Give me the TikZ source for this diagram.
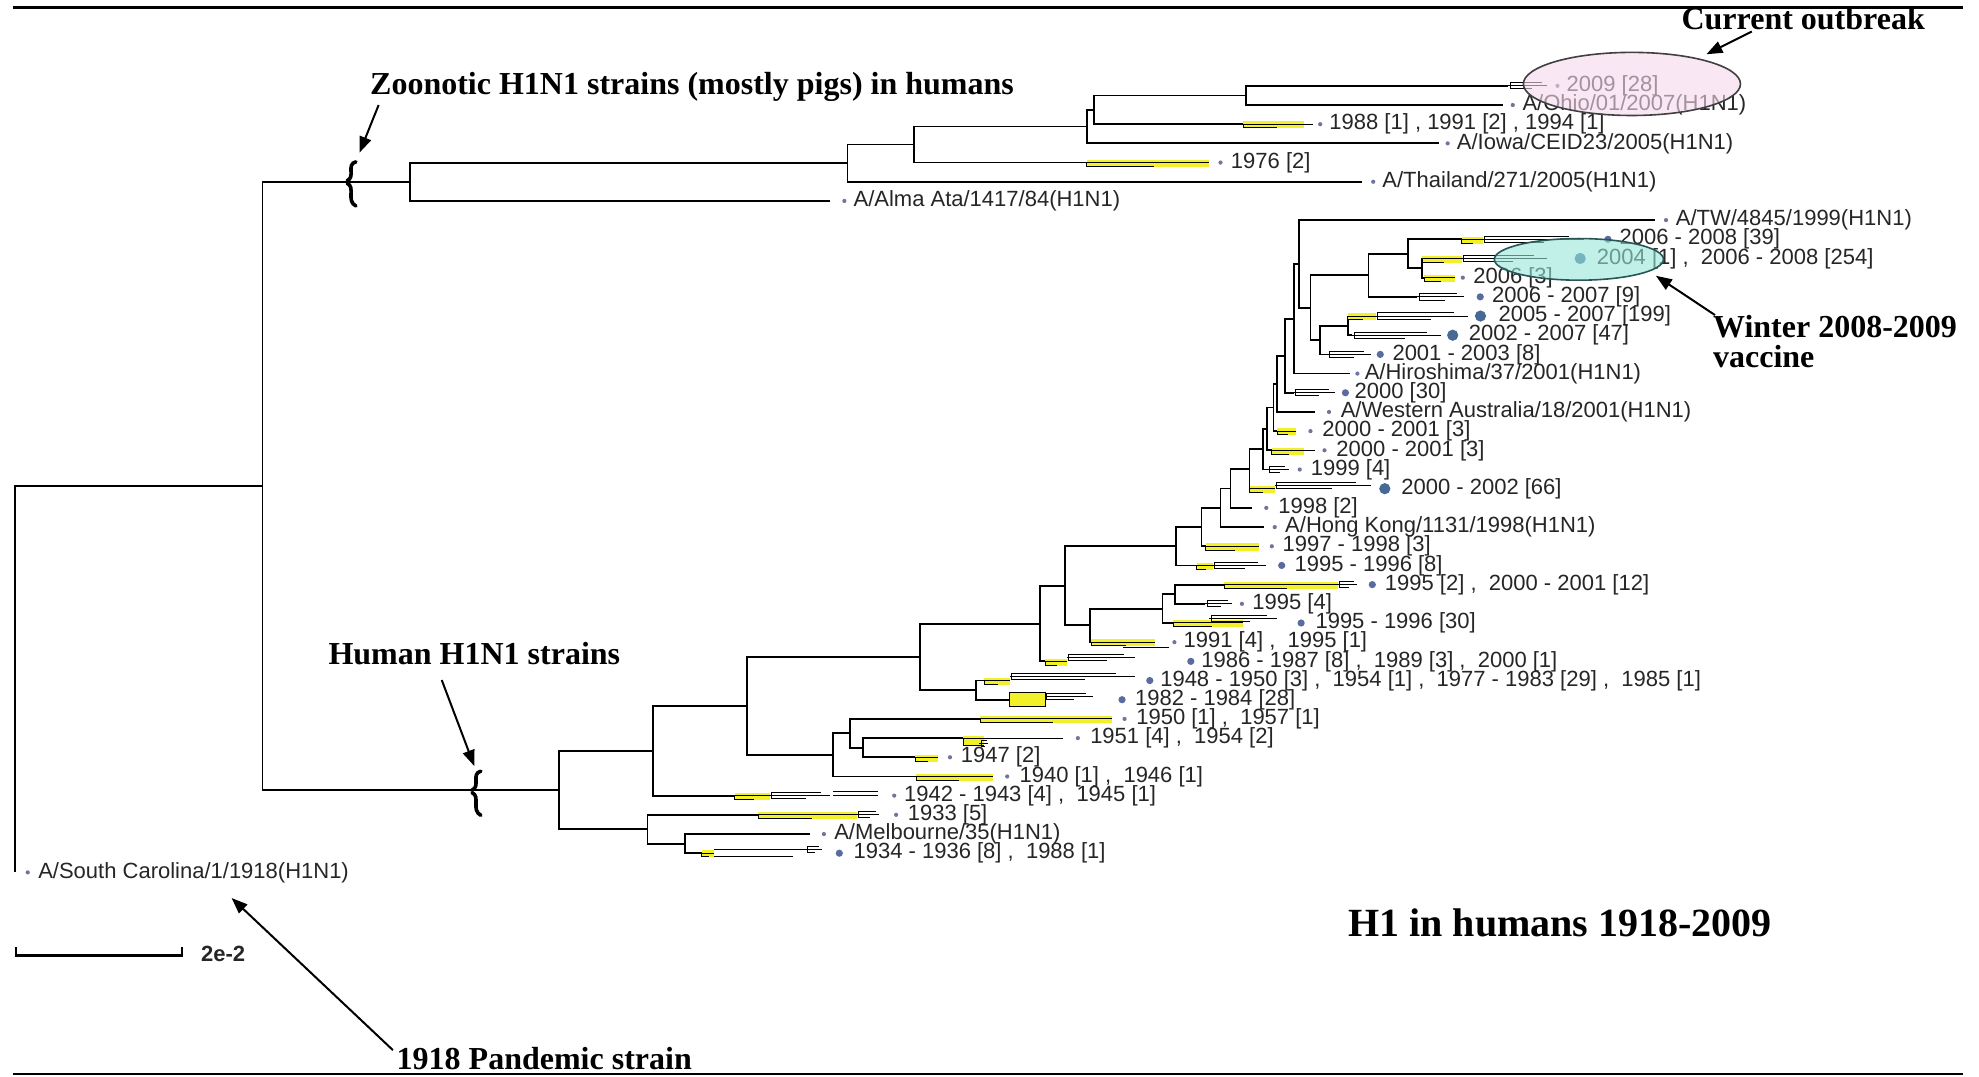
\documentclass[tikz,border=0pt]{standalone}
\usepackage{fontspec}
\setmainfont{Liberation Serif}
\newfontfamily\sansf{Liberation Sans}
\usetikzlibrary{arrows.meta}
\definecolor{yel}{RGB}{242,240,40}
\definecolor{sdotc}{RGB}{110,118,158}
\definecolor{mdotc}{RGB}{88,108,160}
\definecolor{bdotc}{RGB}{70,105,150}
\definecolor{pinkf}{RGB}{248,216,238}
\definecolor{cyanf}{RGB}{150,230,215}
\definecolor{tealo}{RGB}{40,85,85}
\tikzset{
 br/.style={line width=0.9pt},
 thn/.style={line width=0.5pt},
 lab/.style={anchor=west, inner sep=0pt, text=black!85, font=\sansf\fontsize{11}{12}\selectfont},
 ttl/.style={anchor=west, inner sep=0pt, font=\bfseries\fontsize{16}{18}\selectfont},
 sdot/.style={circle, fill=sdotc, inner sep=0pt, minimum size=2.1pt},
 mdot/.style={circle, fill=mdotc, inner sep=0pt, minimum size=3.6pt},
 bdot/.style={circle, fill=bdotc, inner sep=0pt, minimum size=5.6pt},
 arr/.style={line width=1pt, -{Triangle[length=8pt,width=6pt]}},
}
% yellow collapsed clade: y, x0, x1
\newcommand\yc[3]{%
  \fill[yel] (#2,#1-2.2) rectangle (#3,#1+3.4);
  \draw[thn] (#2,#1) -- (#3,#1);
  \draw[thn] (#2,#1) -- (#2,#1+3) -- ({#2+0.55*(#3-#2)},#1+3);
}
% small fan of short branches: x, y, length
\newcommand\twig[3]{%
  \draw[thn] (#1,#2) -- (#1+#3,#2);
  \draw[thn] (#1+1.5,#2) -- (#1+1.5,#2-2.5) -- (#1+0.85*#3,#2-2.5);
  \draw[thn] (#1+1.5,#2) -- (#1+1.5,#2+2.5) -- (#1+0.6*#3,#2+2.5);
}
% break marker: x, y
\newcommand\brk[2]{%
  \draw[line width=1.8pt, line cap=round] (#1+4,#2-16) .. controls (#1-4,#2-14) and (#1+4,#2-4) .. (#1-3,#2-1);
  \draw[line width=1.8pt, line cap=round] (#1-3,#2+1) .. controls (#1+4,#2+4) and (#1-4,#2+15) .. (#1+4,#2+19);
}
\begin{document}
\begin{tikzpicture}[x=0.63105pt,y=-0.63105pt]
\useasboundingbox (0,0) rectangle (1568,853);
\fill[white] (0,0) rectangle (1568,853);
% frame lines
\draw[line width=1.3pt] (10,6) -- (1555,6);
\draw[line width=1.3pt] (10,851) -- (1555,851);

% ---------- internal nodes ----------
\coordinate (R0) at (12,538.1);
\coordinate (T) at (208,385.05);
\coordinate (Z) at (325,144.2);
\coordinate (A) at (671.5,129.3);
\coordinate (B) at (724,114.55);
\coordinate (C) at (861,100.3);
\coordinate (D) at (867,87.0);
\coordinate (E) at (987,75.6);
\coordinate (N443) at (443,625.9);
\coordinate (N517) at (517.6,594.85);
\coordinate (N513) at (513,657);
\coordinate (N542) at (542.7,668.4);
\coordinate (N591) at (591.6,559.3);
\coordinate (N550) at (660.3,598.1);
\coordinate (N600) at (673.5,581);
\coordinate (N640) at (684,592.4);
\coordinate (N729) at (729,520.45);
\coordinate (N975) at (773,546.8);
\coordinate (N570) at (824,494.1);
\coordinate (N645) at (843.8,464.15);
\coordinate (X0) at (863.5,495.5);
\coordinate (X1) at (921,482.2);
\coordinate (X2) at (931,470.8);
\coordinate (A8) at (932,432.8);
\coordinate (A7) at (952,417.55);
\coordinate (A6) at (967,402.3);
\coordinate (A5) at (975,387);
\coordinate (A4) at (990,371.55);
\coordinate (A3) at (1001,355.9);
\coordinate (A2) at (1004,339.85);
\coordinate (A1) at (1009,322.9);
\coordinate (NWA) at (1011.5,304.15);
\coordinate (N2000) at (1018,281.9);
\coordinate (NH) at (1025,252.55);
\coordinate (NP) at (1029,209.1);
\coordinate (NQ) at (1038.3,243.75);
\coordinate (NR) at (1084.3,218.1);
\coordinate (NR1) at (1115.7,201);
\coordinate (NR2) at (1126.7,212.4);
\coordinate (NS) at (1046,269.4);
\coordinate (NS1) at (1068,258);

% ---------- internal branches ----------
\draw[br] (R0) |- (T);
\draw[br] (T) |- (Z);
\draw[br] (T) |- (N443);
\draw[br] (Z) |- (A);
\draw[br] (A) |- (B);
\draw[br] (B) |- (C);
\draw[br] (C) |- (D);
\draw[br] (D) |- (E);
\draw[br] (N443) |- (N517);
\draw[br] (N443) |- (N513);
\draw[br] (N513) |- (N542);
\draw[br] (N517) |- (N591);
\draw[br] (N591) |- (N729);
\draw[br] (N591) |- (N550);
\draw[br] (N550) |- (N600);
\draw[br] (N600) |- (N640);
\draw[br] (N729) |- (N570);
\draw[br] (N729) |- (N975);
\draw[br] (N570) |- (N645);
\draw[br] (N645) |- (A8);
\draw[br] (N645) |- (X0);
\draw[br] (X0) |- (X1);
\draw[br] (X1) |- (X2);
\draw[br] (A8) |- (A7);
\draw[br] (A7) |- (A6);
\draw[br] (A6) |- (A5);
\draw[br] (A5) |- (A4);
\draw[br] (A4) |- (A3);
\draw[br] (A3) |- (A2);
\draw[br] (A2) |- (A1);
\draw[br] (A1) |- (NWA);
\draw[br] (NWA) |- (N2000);
\draw[br] (N2000) |- (NH);
\draw[br] (NH) |- (NP);
\draw[br] (NP) |- (NQ);
\draw[br] (NQ) |- (NR);
\draw[br] (NQ) |- (NS);
\draw[br] (NR) |- (NR1);
\draw[br] (NR1) |- (NR2);
\draw[br] (NS) |- (NS1);

% ---------- leaves: zoonotic clade ----------
\coordinate (t0) at (1195,68);     \draw[br] (E) |- (t0);  \twig{1195}{68}{31}
\node[sdot] (d0) at (1234,68) {};  \node[lab] (l0) at (1241,68) {2009 [28]};
\coordinate (t1) at (1191,83.2);   \draw[br] (E) |- (t1);
\node[sdot] (d1) at (1198.6,83.2) {}; \node[lab] (l1) at (1206,83.2) {A/Ohio/01/2007(H1N1)};
\coordinate (t2) at (985,98.4);    \draw[br] (D) |- (t2);  \yc{98.4}{985}{1033} \draw[thn] (1020,98.4) -- (1040,98.4);
\node[sdot] (d2) at (1046,98.4) {}; \node[lab] (l2) at (1053,98.4) {1988 [1] , 1991 [2] , 1994 [1]};
\coordinate (t3) at (1140,113.6);  \draw[br] (C) |- (t3);
\node[sdot] (d3) at (1147,113.6) {}; \node[lab] (l3) at (1154,113.6) {A/Iowa/CEID23/2005(H1N1)};
\coordinate (t4) at (861,128.8);   \draw[br] (B) |- (t4);  \yc{128.8}{861}{958}
\node[sdot] (d4) at (967,128.8) {}; \node[lab] (l4) at (975,128.8) {1976 [2]};
\coordinate (t5) at (1079,144);    \draw[br] (A) |- (t5);
\node[sdot] (d5) at (1088,144) {}; \node[lab] (l5) at (1095,144) {A/Thailand/271/2005(H1N1)};
\coordinate (t6) at (658,159.2);   \draw[br] (Z) |- (t6);
\node[sdot] (d6) at (669,159.2) {}; \node[lab] (l6) at (676,159.2) {A/Alma Ata/1417/84(H1N1)};

% ---------- leaves: human clade ----------
\coordinate (t7) at (1311,174.4);  \draw[br] (NP) |- (t7);
\node[sdot] (d7) at (1320,174.4) {}; \node[lab] (l7) at (1327.5,174.4) {A/TW/4845/1999(H1N1)};
\coordinate (t8) at (1158,189.6);  \draw[br] (NR1) |- (t8); \yc{189.6}{1158}{1175} \twig{1175}{189.6}{80}
\node[mdot] (d8) at (1274,189.6) {}; \node[lab] (l8) at (1283,189.6) {2006 - 2008 [39]};
\coordinate (t9) at (1127,204.8);  \draw[br] (NR2) |- (t9); \yc{204.8}{1127}{1158} \twig{1158}{204.8}{68}
\node[bdot] (d9) at (1252,204.8) {}; \node[lab] (l9) at (1265,204.8) {2004 [1] ,\ \ 2006 - 2008 [254]};
\coordinate (t10) at (1128.5,220); \draw[br] (NR2) |- (t10); \yc{220}{1128.5}{1152.5}
\node[sdot] (d10) at (1159,220) {}; \node[lab] (l10) at (1167,220) {2006 [3]};
\coordinate (t11) at (1123,235.2); \draw[br] (NR) |- (t11); \twig{1123}{235.2}{37}
\node[mdot] (d11) at (1172.8,235.2) {}; \node[lab] (l11) at (1182,235.2) {2006 - 2007 [9]};
\coordinate (t12) at (1068,250.4); \draw[br] (NS1) |- (t12); \yc{250.4}{1068}{1090} \twig{1090}{250.4}{73}
\node[bdot] (d12) at (1173,250.4) {}; \node[lab] (l12) at (1187,250.4) {2005 - 2007 [199]};
\coordinate (t13) at (1071.5,265.6); \draw[br] (NS1) |- (t13); \twig{1071.5}{265.6}{70}
\node[bdot] (d13) at (1151,265.6) {}; \node[lab] (l13) at (1163.5,265.6) {2002 - 2007 [47]};
\coordinate (t14) at (1052,280.8); \draw[br] (NS) |- (t14); \twig{1052}{280.8}{34}
\node[mdot] (d14) at (1093.6,280.8) {}; \node[lab] (l14) at (1103,280.8) {2001 - 2003 [8]};
\coordinate (t15) at (1069.6,296); \draw[br] (NH) |- (t15);
\node[sdot] (d15) at (1075.5,296) {}; \node[lab] (l15) at (1081,296) {A/Hiroshima/37/2001(H1N1)};
\coordinate (t16) at (1025,311.2); \draw[br] (N2000) |- (t16); \twig{1025}{311.2}{33}
\node[mdot] (d16) at (1066,311.2) {}; \node[lab] (l16) at (1073,311.2) {2000 [30]};
\coordinate (t17) at (1042,326.4); \draw[br] (NWA) |- (t17);
\node[sdot] (d17) at (1053,326.4) {}; \node[lab] (l17) at (1062,326.4) {A/Western Australia/18/2001(H1N1)};
\coordinate (t18) at (1012,341.6); \draw[br] (A1) |- (t18); \yc{341.6}{1012}{1027}
\node[sdot] (d18) at (1038.3,341.6) {}; \node[lab] (l18) at (1047.5,341.6) {2000 - 2001 [3]};
\coordinate (t19) at (1007.7,356.8); \draw[br] (A2) |- (t19); \yc{356.8}{1007.7}{1032.8} \draw[thn] (1032.8,356.8) -- (1042,356.8);
\node[sdot] (d19) at (1049.4,356.8) {}; \node[lab] (l19) at (1058.6,356.8) {2000 - 2001 [3]};
\coordinate (t20) at (1004,372);   \draw[br] (A3) |- (t20); \twig{1004}{372}{17}
\node[sdot] (d20) at (1029.8,372) {}; \node[lab] (l20) at (1038.3,372) {1999 [4]};
\coordinate (t21) at (990,387.2);  \draw[br] (A4) |- (t21); \yc{387.2}{990}{1010} \twig{1010}{384.5}{76}
\node[bdot] (d21) at (1097.2,387.2) {}; \node[lab] (l21) at (1110,387.2) {2000 - 2002 [66]};
\coordinate (t22) at (992,402.4);  \draw[br] (A5) |- (t22);
\node[sdot] (d22) at (1003.3,402.4) {}; \node[lab] (l22) at (1012.5,402.4) {1998 [2]};
\coordinate (t23) at (1001.5,417.6); \draw[br] (A6) |- (t23);
\node[sdot] (d23) at (1010,417.6) {}; \node[lab] (l23) at (1018,417.6) {A/Hong Kong/1131/1998(H1N1)};
\coordinate (t24) at (955.4,432.8); \draw[br] (A7) |- (t24); \yc{432.8}{955.4}{997.8}
\node[sdot] (d24) at (1007.7,432.8) {}; \node[lab] (l24) at (1016,432.8) {1997 - 1998 [3]};
\coordinate (t25) at (948,448);    \draw[br] (A8) |- (t25); \yc{448}{948}{961} \twig{961}{448}{42}
\node[mdot] (d25) at (1015.5,448) {}; \node[lab] (l25) at (1025.4,448) {1995 - 1996 [8]};
\coordinate (t26) at (970,463.2);  \draw[br] (X2) |- (t26); \yc{463.2}{970}{1060} \twig{1060}{463.2}{15}
\node[mdot] (d26) at (1087.3,463.2) {}; \node[lab] (l26) at (1097,463.2) {1995 [2] ,\ \ 2000 - 2001 [12]};
\coordinate (t27) at (955,478.4);  \draw[br] (X2) |- (t27); \twig{955}{478.4}{21}
\node[sdot] (d27) at (984,478.4) {}; \node[lab] (l27) at (992,478.4) {1995 [4]};
\coordinate (t28) at (929.6,493.6); \draw[br] (X1) |- (t28); \yc{493.6}{929.6}{985} \twig{958}{490}{54}
\node[mdot] (d28) at (1030.9,493.6) {}; \node[lab] (l28) at (1042,493.6) {1995 - 1996 [30]};
\coordinate (t29) at (864.7,508.8); \draw[br] (X0) |- (t29); \yc{508.8}{864.7}{915} \draw[thn] (890,513) -- (926,513);
\node[sdot] (d29) at (930.5,508.8) {}; \node[lab] (l29) at (937.5,508.8) {1991 [4] ,\ \ 1995 [1]};
\coordinate (t30) at (828,524);    \draw[br] (N570) |- (t30); \yc{524}{828}{845} \twig{845}{521}{54}
\node[mdot] (d30) at (943.5,524) {}; \node[lab] (l30) at (951.6,524) {1986 - 1987 [8] ,\ \ 1989 [3] ,\ \ 2000 [1]};
\coordinate (t31) at (780,539.2);  \draw[br] (N975) |- (t31); \yc{539.2}{780}{800} \twig{800}{536}{99}
\node[mdot] (d31) at (911,539.2) {}; \node[lab] (l31) at (919,539.2) {1948 - 1950 [3] ,\ \ 1954 [1] ,\ \ 1977 - 1983 [29] ,\ \ 1985 [1]};
\coordinate (t32) at (800,554.4);  \draw[br] (N975) |- (t32);
\fill[yel] (800,549) rectangle (828,560); \draw[thn] (800,549) rectangle (828,560); \twig{828}{552}{38}
\node[mdot] (d32) at (889,554.4) {}; \node[lab] (l32) at (899,554.4) {1982 - 1984 [28]};
\coordinate (t33) at (776.5,569.6); \draw[br] (N600) |- (t33); \yc{569.6}{776.5}{881}
\node[sdot] (d33) at (891,569.6) {}; \node[lab] (l33) at (900,569.6) {1950 [1] ,\ \ 1957 [1]};
\coordinate (t34) at (763,584.8);  \draw[br] (N640) |- (t34);
\fill[yel] (763,583) rectangle (780,591); \draw[thn] (763,584.8) -- (842.5,584.8); \draw[thn] (763,584.8) -- (763,591) -- (780,591); \twig{776}{589}{7}
\node[sdot] (d34) at (854,584.8) {}; \node[lab] (l34) at (863.5,584.8) {1951 [4] ,\ \ 1954 [2]};
\coordinate (t35) at (725,600);    \draw[br] (N640) |- (t35); \yc{600}{725}{743.5}
\node[sdot] (d35) at (752.7,600) {}; \node[lab] (l35) at (761,600) {1947 [2]};
\coordinate (t36) at (726,615.2);  \draw[br] (N550) |- (t36); \yc{615.2}{726}{787}
\node[sdot] (d36) at (798,615.2) {}; \node[lab] (l36) at (807.5,615.2) {1940 [1] ,\ \ 1946 [1]};
\coordinate (t37) at (582,630.4);  \draw[br] (N517) |- (t37); \yc{630.4}{582}{610} \twig{610}{630.4}{48} \draw[thn] (660,627.5) -- (696,627.5) (660,630.4) -- (696,630.4);
\node[sdot] (d37) at (708.5,630.4) {}; \node[lab] (l37) at (716,630.4) {1942 - 1943 [4] ,\ \ 1945 [1]};
\coordinate (t38) at (600.8,645.6); \draw[br] (N513) |- (t38); \yc{645.6}{600.8}{678.7} \twig{678.7}{645.6}{18}
\node[sdot] (d38) at (710,645.6) {}; \node[lab] (l38) at (719,645.6) {1933 [5]};
\coordinate (t39) at (641.8,660.8); \draw[br] (N542) |- (t39);
\node[sdot] (d39) at (652.8,660.8) {}; \node[lab] (l39) at (660.7,660.8) {A/Melbourne/35(H1N1)};
\coordinate (t40) at (556,676);    \draw[br] (N542) |- (t40); \yc{676}{556}{566}
\draw[thn] (566,673) -- (642,673) (566,678.6) -- (628,678.6); \twig{638}{673}{13}
\node[mdot] (d40) at (665,676) {}; \node[lab] (l40) at (676,676) {1934 - 1936 [8] ,\ \ 1988 [1]};
\coordinate (t41) at (12,691.2);   \draw[br] (R0) |- (t41);
\node[sdot] (d41) at (22,691.2) {}; \node[lab] (l41) at (30,691.2) {A/South Carolina/1/1918(H1N1)};

% ---------- break markers ----------
\brk{278}{144.2}
\brk{377}{627}

% ---------- highlight ellipses ----------
\fill[pinkf, fill opacity=0.6] (1293,66.5) ellipse [x radius=86, y radius=25];
\draw[line width=0.8pt, black!75] (1293,66.5) ellipse [x radius=86, y radius=25];
\fill[cyanf, fill opacity=0.6] (1251,205.5) ellipse [x radius=67, y radius=16.5];
\draw[line width=0.8pt, tealo] (1251,205.5) ellipse [x radius=67, y radius=16.5];

% ---------- scale bar ----------
\coordinate (sb1) at (12.4,750.5);
\coordinate (sb2) at (144.4,750.5);
\draw[line width=1.1pt] (sb1) -- (12.4,757) -- (144.4,757) -- (sb2);
\node[anchor=west, inner sep=0pt, text=black!85, font=\sansf\bfseries\fontsize{11}{12}\selectfont] (sbl) at (159,756) {2e-2};

% ---------- annotations ----------
\node[ttl] (zoo) at (293,69) {Zoonotic H1N1 strains (mostly pigs) in humans};
\coordinate (zooA) at (300,83.2);  \coordinate (zooB) at (284.8,121);
\draw[arr] (zooA) -- (zooB);

\node[ttl] (cur) at (1332,14.5) {Current outbreak};
\coordinate (curA) at (1388,25); \coordinate (curB) at (1352,43);
\draw[arr] (curA) -- (curB);

\node[ttl] (win) at (1357,258.5) {Winter 2008-2009};
\node[ttl] (vac) at (1357,282.5) {vaccine};
\coordinate (winA) at (1358.8,249.6); \coordinate (winB) at (1312,218.5);
\draw[arr] (winA) -- (winB);

\node[ttl] (hum) at (260,518) {Human H1N1 strains};
\coordinate (humA) at (350,538.8); \coordinate (humB) at (375.8,607);
\draw[arr] (humA) -- (humB);

\node[ttl] (pan) at (314,838.5) {1918 Pandemic strain};
\coordinate (panA) at (311.3,832); \coordinate (panB) at (183.5,711.5);
\draw[arr] (panA) -- (panB);

\node[anchor=west, inner sep=0pt, font=\bfseries\fontsize{20}{22}\selectfont] (h1) at (1068,731) {H1 in humans 1918-2009};
\end{tikzpicture}
\end{document}
